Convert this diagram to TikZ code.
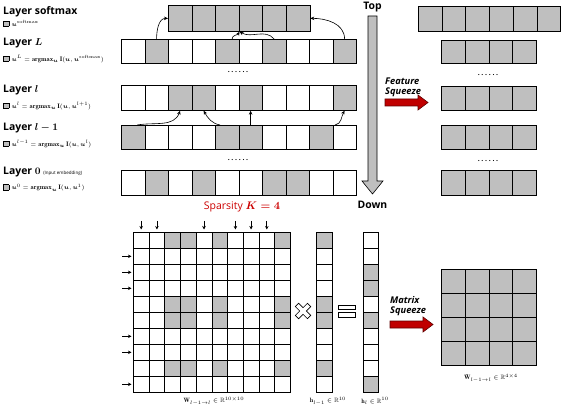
\documentclass[tikz,border=0pt]{standalone}
\usepackage{fontspec}
\usepackage{amsmath,amssymb}
\usetikzlibrary{arrows.meta}
\newfontfamily\lbl{Open Sans}
\definecolor{gry}{RGB}{191,191,191}
\definecolor{dred}{RGB}{192,0,0}
\definecolor{sred}{RGB}{204,0,0}
\newcommand{\sqbox}{{\setlength\fboxsep{0pt}\setlength\fboxrule{0.5pt}\fcolorbox{black}{gry}{\rule{0pt}{5pt}\rule{5pt}{0pt}}}\hspace{2.5pt}}
\newcommand{\dotrow}{.\kern1.7pt.\kern1.7pt.\kern1.7pt.\kern1.7pt.\kern1.7pt.}
\newcommand{\cellrow}[6]{%
  \foreach[count=\i from 0] \f in {#6}
    \node[boxcell, fill=\f, minimum width=#4pt, minimum height=#5pt] (#1\i) at ({#2+#4*\i}, #3) {};}
\tikzset{
  boxcell/.style={draw=black, line width=0.7pt, inner sep=0pt, anchor=north west},
  ttl/.style={anchor=west, inner sep=0pt, font=\lbl\bfseries\fontsize{10.4}{11}\selectfont},
  frm/.style={anchor=west, inner sep=0pt, font=\fontsize{6.5}{7}\selectfont},
  dts/.style={inner sep=0pt, font=\lbl\bfseries\fontsize{7}{7}\selectfont},
  cnn/.style={-{Stealth[length=4pt,width=3.5pt]}, line width=0.6pt},
  sml/.style={-{Stealth[length=3.5pt,width=3.5pt]}, line width=0.7pt},
  sqz/.style={anchor=west, inner sep=0pt, font=\lbl\bfseries\itshape\fontsize{9.3}{10}\selectfont},
  cpt/.style={inner sep=0pt, font=\fontsize{6.2}{7}\selectfont},
  bgar/.style={fill=gry, draw=black, line width=0.6pt},
  rdar/.style={fill=dred, draw=black!50!dred, line width=0.6pt},
}
\begin{document}
\begin{tikzpicture}[x=1pt,y=-1pt]
\useasboundingbox (0,0) rectangle (562,406);

% left labels
\node[ttl] (tS) at (3,12) {Layer softmax};
\node[frm] (fS) at (3,23.5) {\sqbox$\boldsymbol{u}^{\mathrm{softmax}}$};
\node[ttl] (tL) at (3,43) {Layer $\boldsymbol{L}$};
\node[frm] (fL) at (3,59) {\sqbox$\boldsymbol{u}^{L}=\mathbf{argmax}_{\boldsymbol{u}}\,\mathbf{I}(\boldsymbol{u},\boldsymbol{u}^{\mathrm{softmax}})$};
\node[ttl] (tl) at (3,90) {Layer $\boldsymbol{l}$};
\node[frm] (fl) at (3,106) {\sqbox$\boldsymbol{u}^{l}=\mathbf{argmax}_{\boldsymbol{u}}\,\mathbf{I}(\boldsymbol{u},\boldsymbol{u}^{l+1})$};
\node[ttl] (tm) at (3,128) {Layer $\boldsymbol{l-1}$};
\node[frm] (fm) at (3,144) {\sqbox$\boldsymbol{u}^{l-1}=\mathbf{argmax}_{\boldsymbol{u}}\,\mathbf{I}(\boldsymbol{u},\boldsymbol{u}^{l})$};
\node[ttl] (t0) at (3,172) {Layer $\boldsymbol{0}$ {\fontsize{4.5}{5}\selectfont\mdseries (Input embedding)}};
\node[frm] (f0) at (3,188) {\sqbox$\boldsymbol{u}^{0}=\mathbf{argmax}_{\boldsymbol{u}}\,\mathbf{I}(\boldsymbol{u},\boldsymbol{u}^{1})$};

% layer rows
\cellrow{S}{168}{5}{23.6}{26}{gry,gry,gry,gry,gry,gry}
\cellrow{L}{121}{39}{23.5}{24}{white,gry,white,white,gry,white,gry,white,white,gry}
\cellrow{P}{121}{85.5}{23.5}{24.5}{white,white,gry,gry,white,gry,white,white,white,gry}
\cellrow{M}{121}{125}{23.5}{24.5}{gry,white,white,white,gry,gry,white,white,gry,white}
\cellrow{Z}{121}{170.5}{23.5}{24.5}{white,gry,white,gry,white,white,gry,gry,white,white}
\node[dts] (d1) at (238,72) {\dotrow};
\node[dts] (d2) at (238,160) {\dotrow};

% connectors L -> softmax
\draw[cnn] (L1.north) to[out=90, in=180] (S0.west);
\draw[cnn] ([xshift=5pt]L4.north) to[out=90, in=-120] (S2.south east);
\draw[cnn] (L6.north) to[out=130, in=-30] (S2.south east);
\draw[cnn] (L9.north) to[out=90, in=0] (S5.east);
% l-1 -> l
\draw[cnn] ([xshift=4pt]M0.north) to[out=10, in=-110] (P2.south);
\draw[cnn] ([xshift=-7pt]M4.north) to[out=170, in=-60] (P3.south);
\draw[cnn] (M5.north) -- (P5.south);
\draw[cnn] ([xshift=14pt]M8.north) to[out=10, in=-120] (P9.south);

% Top / Down arrow
\node[ttl, anchor=center] (top) at (372.5,7) {Top};
\node[ttl, anchor=center] (down) at (372.5,205) {Down};
\draw[bgar] (368,16) -- (377,16) -- (377,181) -- (383,181) -- (372.5,194) -- (362,181) -- (368,181) -- cycle;

% feature squeeze
\node[sqz] (fs1) at (385,81) {Feature};
\node[sqz] (fs2) at (385,92.5) {Squeeze};
\draw[rdar] (385,99) -- (418,99) -- (418,95) -- (428,102.5) -- (418,110) -- (418,106) -- (385,106) -- cycle;

% right rows
\cellrow{R}{418}{6}{23.7}{25}{gry,gry,gry,gry,gry,gry}
\cellrow{A}{441}{40}{23.75}{23.5}{gry,gry,gry,gry}
\cellrow{B}{441}{86}{23.75}{24}{gry,gry,gry,gry}
\cellrow{C}{441}{125.5}{23.75}{24}{gry,gry,gry,gry}
\cellrow{D}{441}{170.5}{23.75}{24.5}{gry,gry,gry,gry}
\node[dts] (d3) at (488,75) {\dotrow};
\node[dts] (d4) at (488,161) {\dotrow};

% sparsity
\node[inner sep=0pt, text=sred, font=\lbl\fontsize{10.5}{11}\selectfont] (sp) at (242,207) {Sparsity $\boldsymbol{K=4}$};

% matrix W
\foreach \r in {0,...,9}{\foreach \c in {0,...,9}{
  \pgfmathtruncatemacro{\g}{((\r==0)||(\r==4)||(\r==5)||(\r==8))&&((\c==2)||(\c==3)||(\c==5)||(\c==9))}
  \ifnum\g=1 \def\f{gry}\else\def\f{white}\fi
  \node[boxcell, fill=\f, minimum width=15.7pt, minimum height=16pt] (W\r-\c) at ({133+15.7*\c},{232+16*\r}) {};
}}
\foreach \c in {0,1,4,6,7,8}
  \draw[sml] ([yshift=11pt]W0-\c.north) -- ([yshift=2.5pt]W0-\c.north);
\foreach \r in {1,2,3,6,7,9}
  \draw[sml] ([xshift=-11pt]W\r-0.west) -- ([xshift=-1.5pt]W\r-0.west);
\node[cpt] (wl) at (214,401) {$\mathbf{W}_{l-1\rightarrow l}\in\mathbb{R}^{10\times10}$};

% times sign
\begin{scope}[shift={(303,311)}, rotate=45]
\draw[fill=white, line width=0.7pt] (2.3,8.5) -- (2.3,2.3) -- (8.5,2.3) -- (8.5,-2.3) -- (2.3,-2.3) -- (2.3,-8.5) -- (-2.3,-8.5) -- (-2.3,-2.3) -- (-8.5,-2.3) -- (-8.5,2.3) -- (-2.3,2.3) -- (-2.3,8.5) -- cycle;
\end{scope}

% vector h_{l-1}
\foreach[count=\i from 0] \f in {gry,white,white,white,gry,gry,white,white,gry,white}
  \node[boxcell, fill=\f, minimum width=16.5pt, minimum height=16pt] (H\i) at (315.5,{232+16*\i}) {};
\node[cpt] (hl1) at (328,401) {$\mathbf{h}_{l-1}\in\mathbb{R}^{10}$};

% equals sign
\draw[fill=white, line width=0.7pt] (338,305) rectangle (355,309.3);
\draw[fill=white, line width=0.7pt] (338,312.7) rectangle (355,317);

% vector h_l
\foreach[count=\i from 0] \f in {white,white,gry,gry,white,gry,white,white,white,gry}
  \node[boxcell, fill=\f, minimum width=15.7pt, minimum height=16pt] (G\i) at (362.5,{232+16*\i}) {};
\node[cpt] (hl) at (375,401) {$\mathbf{h}_{l}\in\mathbb{R}^{10}$};

% matrix squeeze
\node[sqz] (ms1) at (390,300) {Matrix};
\node[sqz] (ms2) at (390,311.5) {Squeeze};
\draw[rdar] (390,321) -- (423,321) -- (423,317) -- (433,324.5) -- (423,332) -- (423,328) -- (390,328) -- cycle;

% squeezed matrix
\foreach \r in {0,...,3}{\foreach \c in {0,...,3}{
  \node[boxcell, fill=gry, minimum width=23.75pt, minimum height=24pt] (Q\r-\c) at ({441+23.75*\c},{269+24*\r}) {};
}}
\node[cpt] (ql) at (491,378) {$\tilde{\mathbf{W}}_{l-1\rightarrow l}\in\mathbb{R}^{4\times4}$};
\end{tikzpicture}
\end{document}
